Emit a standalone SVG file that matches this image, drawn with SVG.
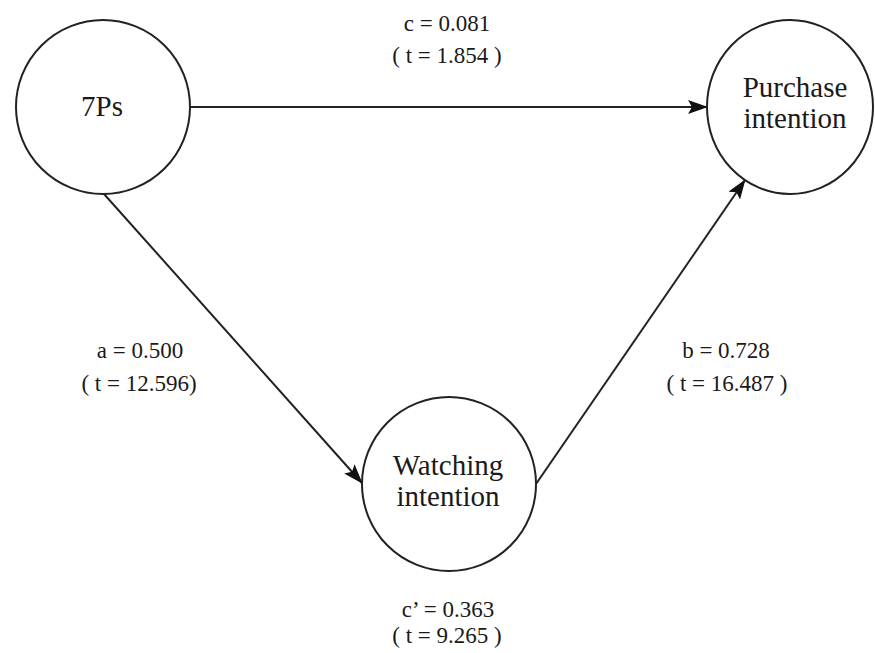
<svg xmlns="http://www.w3.org/2000/svg" width="875" height="653" viewBox="0 0 875 653">
<defs>
<style>
.node{fill:#fff;stroke:#222;stroke-width:2}
.nt{font-family:"Liberation Serif","Times New Roman",serif;font-size:29px;fill:#1a1a1a;text-anchor:middle}
.lb{font-family:"Liberation Serif","Times New Roman",serif;font-size:23px;fill:#1a1a1a;text-anchor:middle}
.edge{stroke:#222;stroke-width:2;fill:none;marker-end:url(#ah)}
</style>
<marker id="ah" markerUnits="userSpaceOnUse" markerWidth="20" markerHeight="14" viewBox="0 0 20 14" refX="19" refY="7" orient="auto">
<path d="M0,0 L20,7 L0,14 L4,7 Z" fill="#111"/>
</marker>
</defs>
<rect width="875" height="653" fill="#fff"/>
<g id="connectors">
<line class="edge" x1="190" y1="107" x2="707" y2="107"/>
<line class="edge" x1="104" y1="194" x2="362" y2="483"/>
<line class="edge" x1="536" y1="484" x2="745" y2="180"/>
</g>
<g id="node-7ps">
<circle class="node" cx="103" cy="107" r="87"/>
<text class="nt" x="102" y="116">7Ps</text>
</g>
<g id="node-purchase">
<ellipse class="node" cx="790" cy="107" rx="83" ry="87"/>
<text class="nt" x="795" y="97">Purchase</text>
<text class="nt" x="795" y="128">intention</text>
</g>
<g id="node-watching">
<circle class="node" cx="449" cy="484" r="87"/>
<text class="nt" x="448" y="475">Watching</text>
<text class="nt" x="448" y="506">intention</text>
</g>
<g id="labels">
<text class="lb" x="447" y="31">c = 0.081</text>
<text class="lb" x="447" y="63">( t = 1.854 )</text>
<text class="lb" x="140" y="358">a = 0.500</text>
<text class="lb" x="139" y="391">( t = 12.596)</text>
<text class="lb" x="726" y="358">b = 0.728</text>
<text class="lb" x="727" y="391">( t = 16.487 )</text>
<text class="lb" x="448" y="617">c’ = 0.363</text>
<text class="lb" x="447" y="643">( t = 9.265 )</text>
</g>
</svg>
